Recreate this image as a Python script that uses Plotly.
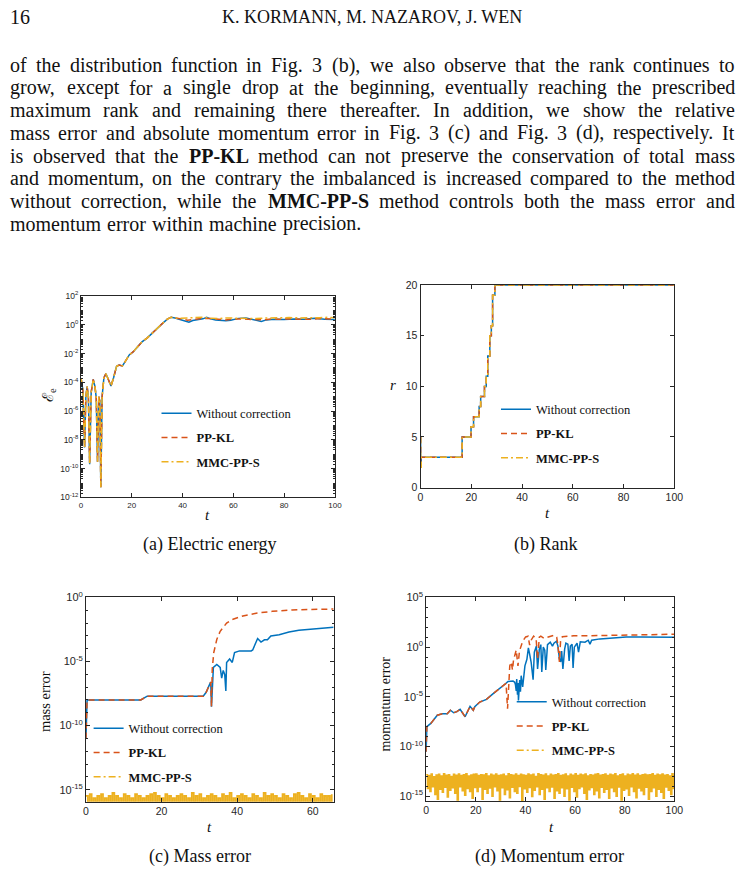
import numpy as np
import plotly.graph_objects as go

W, H = 749, 880
SERIF = "Liberation Serif, Times New Roman, DejaVu Serif, serif"
SANS = "Liberation Sans, Arial, sans-serif"
AX = "#262626"
BLUE, ORANGE, YELLOW = "#0072BD", "#D95319", "#EDB120"
NAMES = ["Without correction", "<b>PP-KL</b>", "<b>MMC-PP-S</b>"]

# ---------------- data ----------------
# (a) electric energy
t_a_early = [0, 0.7, 1.4, 1.9, 2.4, 2.9, 3.4, 4.0, 4.8, 5.5, 6.0, 6.5, 7.0, 7.4, 7.8, 8.3, 9.0, 9.8,
             10.8, 11.8, 12.8, 14.0, 15.0, 16.3, 17.5, 19.0, 20.5, 22.0, 24.0, 26.0, 28.0, 30.0, 32.0,
             34.0, 35.5, 37.0]
E_a_early = [2e-4, 3e-5, 3e-9, 1e-5, 5e-5, 1e-5, 2e-10, 2e-5, 1.6e-4, 5e-5, 8e-6, 3e-10, 1e-5, 5e-6,
             5e-12, 1e-5, 2e-4, 4e-4, 1.5e-4, 5.5e-5, 2e-4, 1.3e-3, 1.6e-3, 1.4e-3, 3e-3, 8e-3, 1.3e-2,
             2.5e-2, 6.5e-2, 0.12, 0.27, 0.6, 1.2, 2.5, 3.4, 3.0]
t_a_wc_tail = [39, 41, 42.5, 44, 46, 48, 49.5, 51, 53, 55, 57, 59, 62, 65, 67, 69, 71, 73, 76, 80, 84,
               88, 92, 96, 100]
E_a_wc_tail = [2.3, 1.7, 1.5, 2.0, 2.3, 2.6, 3.3, 2.6, 2.2, 2.1, 1.9, 2.1, 2.8, 3.0, 2.5, 2.3, 1.7,
               2.2, 2.4, 2.3, 2.5, 2.4, 2.8, 2.4, 2.3]
t_a_tail = [39, 42, 45, 48, 51, 54, 57, 60, 63, 66, 69, 72, 75, 78, 82, 86, 90, 94, 97, 100]
E_a_kl_tail = [2.6, 2.1, 2.4, 2.8, 2.7, 2.3, 2.2, 2.6, 2.6, 2.4, 2.3, 2.2, 2.6, 2.4, 2.6, 2.5, 2.4,
               2.7, 2.6, 2.5]
E_a_mmc_tail = [2.8, 3.0, 3.2, 3.4, 2.8, 2.7, 3.0, 2.9, 3.1, 2.8, 2.7, 2.9, 3.0, 2.9, 3.2, 3.0, 2.9,
                3.1, 3.3, 3.1]

# (b) rank
t_rank = [0, 0.05, 0.3, 16.4, 19.9, 20.9, 23.1, 23.7, 25.2, 25.9, 26.5, 27.3, 27.9, 28.4, 29.3, 100]
rank = [5, 2, 3, 5, 6, 7, 8, 9, 10, 11, 13, 15, 16, 19, 20, 20]

# (c) mass error
t_c_early = [0, 0.3, 14.5, 16.2, 31.0, 31.8, 32.5, 33.0, 33.2]
M_c_early = [1e-11, 1e-8, 1e-8, 2e-8, 2e-8, 4e-8, 1.2e-7, 2.5e-7, 3e-9]
t_c_wc_tail = [33.7, 34.6, 35.5, 35.9, 36.3, 36.7, 37.0, 37.2, 38.0, 38.7, 39.3, 40.6, 43.7, 44.1,
               45.4, 46.3, 47.2, 48.0, 48.9, 51.1, 53.7, 56.3, 60.6, 65.5]
M_c_wc_tail = [3.5e-6, 6e-6, 3.5e-6, 5e-7, 2e-6, 1e-6, 5e-8, 8.5e-6, 1.6e-5, 8.5e-6, 5e-5, 6.8e-5,
               6.8e-5, 8e-5, 6.3e-4, 3.3e-4, 5e-4, 5e-4, 1e-3, 1.25e-3, 2e-3, 2.75e-3, 3.7e-3, 4.7e-3]
t_c_kl_tail = [33.4, 33.8, 34.6, 35.5, 37.2, 38.9, 41.5, 45.0, 49.3, 54.5, 59.7, 65.5]
M_c_kl_tail = [2.5e-6, 5e-5, 5.2e-4, 2.3e-3, 1e-2, 2e-2, 3.6e-2, 5.9e-2, 8.3e-2, 0.107, 0.117, 0.126]
# MMC-PP-S mass error, in units of 1e-16
M_c_mmc_e16 = [
    3.3, 1.1, 4.4, 0.8, 2.2, 1.1, 3.3, 0.6, 4.4, 1.1, 2.2, 0.9, 3.3, 1.1, 5.6, 0.7, 3.3, 1.1, 2.2, 0.8,
    4.4, 1.1, 3.3, 0.6, 2.2, 1.1, 4.4, 0.9, 3.3, 1.1, 2.2, 0.7, 3.3, 1.1, 4.4, 0.8, 5.6, 1.1, 3.3, 0.6,
    2.2, 1.1, 4.4, 0.9, 3.3, 1.1, 2.2, 0.8, 3.3, 1.1, 4.4, 0.7, 3.3, 1.1, 2.2, 0.6, 5.6, 1.1, 3.3, 0.9,
    4.4, 1.1, 2.2, 0.8, 3.3, 1.1, 4.4, 0.7, 3.3, 1.1, 2.2, 0.6, 4.4, 1.1, 3.3, 0.9, 5.6, 1.1, 2.2, 0.8,
    3.3, 1.1, 4.4, 0.7, 3.3, 1.1, 2.2, 0.6, 4.4, 1.1, 3.3, 0.9, 2.2, 1.1, 5.6, 0.8, 3.3, 1.1, 4.4, 0.7,
    3.3, 1.1, 2.2, 0.6, 4.4, 1.1, 3.3, 0.9, 2.2, 1.1, 4.4, 0.8, 5.6, 1.1, 3.3, 0.7, 2.2, 1.1, 4.4, 0.6,
    3.3, 1.1, 2.2, 0.9, 4.4, 1.1, 3.3, 0.8, 3.3, 1.1, 4.4]

# (d) momentum error
t_d_early = [0, 0.3, 1.9, 4.5, 6.5, 8.5, 9.8, 11.1, 12.4, 13.7, 15.7, 17.0, 17.7, 19.0, 19.6, 21.6,
             24.3, 26.9, 29.6, 32.2]
P_d_early = [3e-11, 1e-8, 2.1e-8, 1.4e-7, 2e-7, 2e-7, 4.5e-7, 2.5e-7, 3.2e-7, 5.6e-7, 1e-7, 4.5e-7,
             1.1e-6, 4.5e-7, 1e-6, 3e-6, 5.5e-6, 2e-5, 6.3e-5, 2.3e-4]
t_d_wc_tail = [33.0, 35.0, 35.7, 36.0, 36.3, 36.5, 36.8, 37.0, 37.2, 37.5, 37.7, 38.0, 38.3, 38.9,
               39.8, 40.6, 41.2, 41.7, 42.3, 43.1, 43.6, 44.4, 44.9, 45.6, 46.2, 46.6, 47.2, 47.8,
               48.2, 48.9, 50.0, 50.9, 51.5, 52.5, 53.1, 53.7, 54.2, 54.6, 55.1, 55.8, 56.3, 57.1,
               57.6, 58.1, 58.8, 59.2, 59.7, 60.8, 61.4, 62.1, 64.0, 65.3, 66.0, 66.7, 70.0, 75.3,
               80.6, 85.9, 92.5, 100]
P_d_wc_tail = [3.6e-4, 4e-4, 2.9e-4, 1.6e-4, 4e-5, 6.3e-4, 1.6e-5, 2.5e-4, 4.4e-6, 1.26e-4,
               5e-4, 3.2e-5, 1.35e-3, 1e-4, 1.3e-2, 6e-2, 0.85, 0.2, 3.2e-2, 5.2e-4,
               0.32, 1.26, 6.3e-3, 0.63, 1.8, 3.2e-3, 1.0, 0.5, 5e-3, 1.8,
               3.2, 1.26, 2.5, 4.0, 1.26, 6.3e-2, 3.2e-2, 0.4, 6.3e-3, 0.63,
               2.5, 2.0, 4e-2, 1.26, 2.0, 8e-3, 1.0, 2.5, 0.32, 3.5,
               3.2, 5.0, 2.0, 5.0, 6.8, 8.5, 10.7, 10.7, 10, 10]
t_d_kl_tail = [32.8, 33.3, 33.7, 34.3, 34.8, 35.2, 35.7, 36.3, 37.0, 37.6, 38.9, 40.1, 41.1, 41.7,
               42.3, 43.3, 44.3, 44.9, 45.6, 46.2, 47.5, 48.9, 50.2, 51.5, 52.6, 53.1, 53.7, 54.2,
               54.9, 56.9, 59.5, 66, 75, 85, 100]
P_d_kl_tail = [6.3e-7, 3.2e-4, 1.3e-2, 3.2e-2, 5e-3, 5e-2, 0.2, 0.5, 1.26e-2, 0.4,
               4.0, 10.7, 12.6, 1.6, 5.0, 12.6, 7.9, 6.3e-2, 10, 12.6,
               7.9, 10, 12.6, 15.8, 10, 1.6, 3.2e-2, 6.3, 11.2, 12.6,
               14.1, 14.1, 15.8, 17.8, 20]
# MMC-PP-S momentum error, in units of 1e-14
P_d_mmc_e14 = [
    15, 0.6, 12, 0.3, 17, 0.9, 9, 0.15, 14, 0.05, 16, 0.5, 11, 0.25, 18, 0.8, 13, 0.08, 15, 0.4,
    10, 0.7, 16, 0.2, 13, 0.04, 17, 0.9, 12, 0.35, 15, 0.12, 18, 0.6, 11, 0.3, 14, 0.06, 16, 0.75,
    17, 0.3, 12, 0.85, 15, 0.05, 14, 0.5, 18, 0.2, 11, 0.65, 16, 0.1, 13, 0.9, 17, 0.35, 12, 0.04,
    14, 0.7, 16, 0.15, 11, 0.45, 18, 0.07, 15, 0.8, 13, 0.3, 17, 0.2, 12, 0.95, 16, 0.03, 14, 0.55,
    12, 0.25, 17, 0.75, 14, 0.09, 16, 0.4, 10, 0.9, 18, 0.15, 15, 0.5, 13, 0.05, 17, 0.7, 11, 0.3,
    16, 0.85, 13, 0.06, 15, 0.35, 18, 0.2, 12, 0.7, 14, 0.1, 17, 0.55, 11, 0.04, 16, 0.8, 13, 0.3,
    18, 0.08, 12, 0.6, 16, 0.9, 14, 0.2, 17, 0.05, 11, 0.45, 15, 0.75, 13, 0.15, 16, 0.35, 18, 0.07,
    13, 0.8, 15, 0.25, 17, 0.5, 12, 0.06, 16, 0.7, 14, 0.3, 18, 0.1, 11, 0.85, 15, 0.04, 17, 0.4,
    11, 0.55, 16, 0.12, 14, 0.9, 18, 0.3, 13, 0.07, 17, 0.65, 12, 0.35, 15, 0.15, 16, 0.8, 14, 0.05,
    15, 0.3, 18, 0.7, 12, 0.1, 16, 0.5, 14, 0.25, 17, 0.06, 13, 0.85, 15, 0.4, 11, 0.15, 18, 0.6,
    14]

# log tick labels
EXP_A = [-12, -10, -8, -6, -4, -2, 0, 2]
EXP_C = [-15, -10, -5, 0]
EXP_D = [-15, -10, -5, 0, 5]

t_c_mmc = np.linspace(0, 65, len(M_c_mmc_e16))
M_c_mmc = [v * 1e-16 for v in M_c_mmc_e16]
t_d_mmc = np.linspace(0, 100, len(P_d_mmc_e14))
P_d_mmc = [v * 1e-14 for v in P_d_mmc_e14]

# ---------------- figure ----------------
fig = go.Figure()


def px_x(x):
    return x / W


def px_y(y):
    return 1 - y / H


def line(color, dash):
    return dict(color=color, width=1.5, dash=dash)


DASH = "6px,4px"
DASHDOT = "7px,3px,2px,3px"


def add(x, y, ax, ln, name, leg, grp, shape="linear", show=True):
    fig.add_trace(go.Scatter(x=x, y=y, mode="lines", line=ln, line_shape=shape, name=name,
                             legend=leg, legendgroup=grp, showlegend=show,
                             xaxis="x" + ax, yaxis="y" + ax, hoverinfo="skip"))


# (a)
add(t_a_early + t_a_wc_tail, E_a_early + E_a_wc_tail, "", line(BLUE, "solid"), NAMES[0], "legend", "a1")
add(t_a_early + t_a_tail, E_a_early + E_a_kl_tail, "", line(ORANGE, DASH), NAMES[1], "legend", "a2")
add(t_a_early + t_a_tail, E_a_early + E_a_mmc_tail, "", line(YELLOW, DASHDOT), NAMES[2], "legend", "a3")
# (b)
add(t_rank, rank, "2", line(BLUE, "solid"), NAMES[0], "legend2", "b1", "hv")
add(t_rank, rank, "2", line(ORANGE, DASH), NAMES[1], "legend2", "b2", "hv")
add(t_rank, rank, "2", line(YELLOW, DASHDOT), NAMES[2], "legend2", "b3", "hv")
# (c)
add(t_c_early + t_c_wc_tail, M_c_early + M_c_wc_tail, "3", line(BLUE, "solid"), NAMES[0], "legend3", "c1")
add(t_c_early + t_c_kl_tail, M_c_early + M_c_kl_tail, "3", line(ORANGE, DASH), NAMES[1], "legend3", "c2")
add(t_c_mmc, M_c_mmc, "3", dict(color=YELLOW, width=1.8), NAMES[2], "legend3", "c3", "hv", show=False)
add([None], [None], "3", line(YELLOW, DASHDOT), NAMES[2], "legend3", "c3")
# (d)
add(t_d_early + t_d_wc_tail, P_d_early + P_d_wc_tail, "4", line(BLUE, "solid"), NAMES[0], "legend4", "d1")
add(t_d_early + t_d_kl_tail, P_d_early + P_d_kl_tail, "4", line(ORANGE, DASH), NAMES[1], "legend4", "d2")
add(t_d_mmc, P_d_mmc, "4", dict(color=YELLOW, width=1.4), NAMES[2], "legend4", "d3", "hv", show=False)
add([None], [None], "4", line(YELLOW, DASHDOT), NAMES[2], "legend4", "d3")


def axis(x0=None, x1=None, y0=None, y1=None, size=10.5, **kw):
    d = dict(showline=True, linecolor=AX, linewidth=0.9, mirror="allticks", ticks="inside",
             ticklen=4, tickcolor=AX, tickwidth=0.8, showgrid=False, zeroline=False,
             tickfont=dict(family=SANS, size=size, color=AX))
    if x0 is not None:
        d["domain"] = [px_x(x0), px_x(x1)]
    else:
        d["domain"] = [px_y(y1), px_y(y0)]
    d.update(kw)
    return d


def logticks(exps):
    return dict(tickmode="array", tickvals=[10.0 ** e for e in exps],
                ticktext=["10<sup>%d</sup>" % e for e in exps])


LOGMINOR = dict(ticks="inside", ticklen=2, tickcolor=AX, dtick=1)

fig.update_layout(
    xaxis=axis(79.3, 337.3, size=8, range=[0, 100], dtick=20, anchor="y"),
    yaxis=axis(y0=292.7, y1=497.3, size=8.5, type="log", range=[-12, 2], anchor="x",
               minor=dict(ticks="inside", ticklen=2, tickcolor=AX, dtick="D1"), **logticks(EXP_A)),
    xaxis2=axis(424.3, 682.3, range=[0, 100], dtick=20, anchor="y2"),
    yaxis2=axis(y0=281.7, y1=487.3, range=[0, 20], dtick=5, anchor="x2"),
    xaxis3=axis(84.3, 336.0, range=[0, 65.5], dtick=20, anchor="y3"),
    yaxis3=axis(y0=599, y1=806.7, size=11, type="log", range=[-15.95, 0], anchor="x3",
                minor=LOGMINOR, **logticks(EXP_C)),
    xaxis4=axis(430.0, 682.3, range=[0, 100], dtick=20, anchor="y4"),
    yaxis4=axis(y0=599, y1=805.7, size=11, type="log", range=[-15.47, 5], anchor="x4",
                minor=LOGMINOR, **logticks(EXP_D)),
)

LEG = dict(bgcolor="rgba(0,0,0,0)", borderwidth=0, xanchor="left", yanchor="top",
           tracegroupgap=5, font=dict(family=SERIF, size=12.5, color="#111"))
fig.update_layout(
    legend=dict(x=px_x(156), y=px_y(397), **LEG),
    legend2=dict(x=px_x(501), y=px_y(393), **LEG),
    legend3=dict(x=px_x(87), y=px_y(717), **LEG),
    legend4=dict(x=px_x(517), y=px_y(690), **LEG),
)

ann = []


def text(x, y, s, size, family=SERIF, angle=0, xanchor="center", color="#111"):
    ann.append(dict(x=px_x(x), y=px_y(y), xref="paper", yref="paper", text=s, showarrow=False,
                    xanchor=xanchor, yanchor="middle", textangle=angle, borderpad=0,
                    borderwidth=0, font=dict(family=family, size=size, color=color)))


# axis titles
text(46, 393, "ℰ<sub>e</sub>", 15, angle=-90)
text(208, 515, "<i>t</i>", 15)
text(396, 383, "<i>r</i>", 15)
text(553, 513, "<i>t</i>", 15)
text(42, 705, "mass error", 14.5, angle=-90)
text(210, 832, "<i>t</i>", 15)
text(389, 707, "momentum error", 14, angle=-90)
text(557, 832, "<i>t</i>", 15)

# captions
text(210, 545, "(a) Electric energy", 18)
text(551, 545, "(b) Rank", 18)
text(200, 862, "(c) Mass error", 18)
text(555, 862, "(d) Momentum error", 18)

# header
text(7, 9, "16", 20, xanchor="left")
text(375, 9, "K. KORMANN, M. NAZAROV, J. WEN", 18)

# justified paragraph (Times metrics)
REG = dict(zip("abcdefghijklmnopqrstuvwxyz",
               [444, 500, 444, 500, 444, 333, 500, 500, 278, 278, 500, 278, 778, 500, 500, 500, 500,
                333, 389, 278, 500, 500, 722, 500, 500, 444]))
REG.update(dict(zip("ABCDEFGHIJKLMNOPQRSTUVWXYZ",
                    [722, 667, 667, 722, 611, 556, 722, 722, 333, 389, 722, 611, 889, 722, 722, 556,
                     722, 667, 556, 611, 722, 722, 944, 722, 722, 611])))
REG.update({c: 500 for c in "0123456789"})
REG.update({".": 250, ",": 250, "(": 333, ")": 333, "-": 333, " ": 250})
BOLD = {"P": 611, "K": 778, "L": 667, "M": 944, "C": 722, "S": 556, "-": 333}

LINES = [
    "of the distribution function in Fig. 3 (b), we also observe that the rank continues to",
    "grow, except for a single drop at the beginning, eventually reaching the prescribed",
    "maximum rank and remaining there thereafter.  In addition, we show the relative",
    "mass error and absolute momentum error in Fig. 3 (c) and Fig. 3 (d), respectively. It",
    "is observed that the **PP-KL** method can not preserve the conservation of total mass",
    "and momentum, on the contrary the imbalanced is increased compared to the method",
    "without correction, while the **MMC-PP-S** method controls both the mass error and",
    "momentum error within machine precision.",
]
FS = 20
LEFT, RIGHT = 7, 743


def wwidth(w):
    if w.startswith("**"):
        return sum(BOLD.get(c, 600) for c in w[2:-2]) * FS / 1000
    return sum(REG.get(c, 500) for c in w) * FS / 1000


for i, ln in enumerate(LINES):
    words = ln.split()
    ws = [wwidth(w) for w in words]
    if i < len(LINES) - 1:
        gap = (RIGHT - LEFT - sum(ws)) / (len(words) - 1)
    else:
        gap = 0.36 * FS
    x = LEFT
    y = 58 + 23 * i
    for w, wd in zip(words, ws):
        s = "<b>%s</b>" % w[2:-2] if w.startswith("**") else w
        text(x, y, s, FS, xanchor="left")
        x += wd + gap

fig.update_layout(annotations=ann, width=W, height=H, margin=dict(l=0, r=0, t=0, b=0),
                  paper_bgcolor="white", plot_bgcolor="white", showlegend=True)

fig.write_html("out.html")
